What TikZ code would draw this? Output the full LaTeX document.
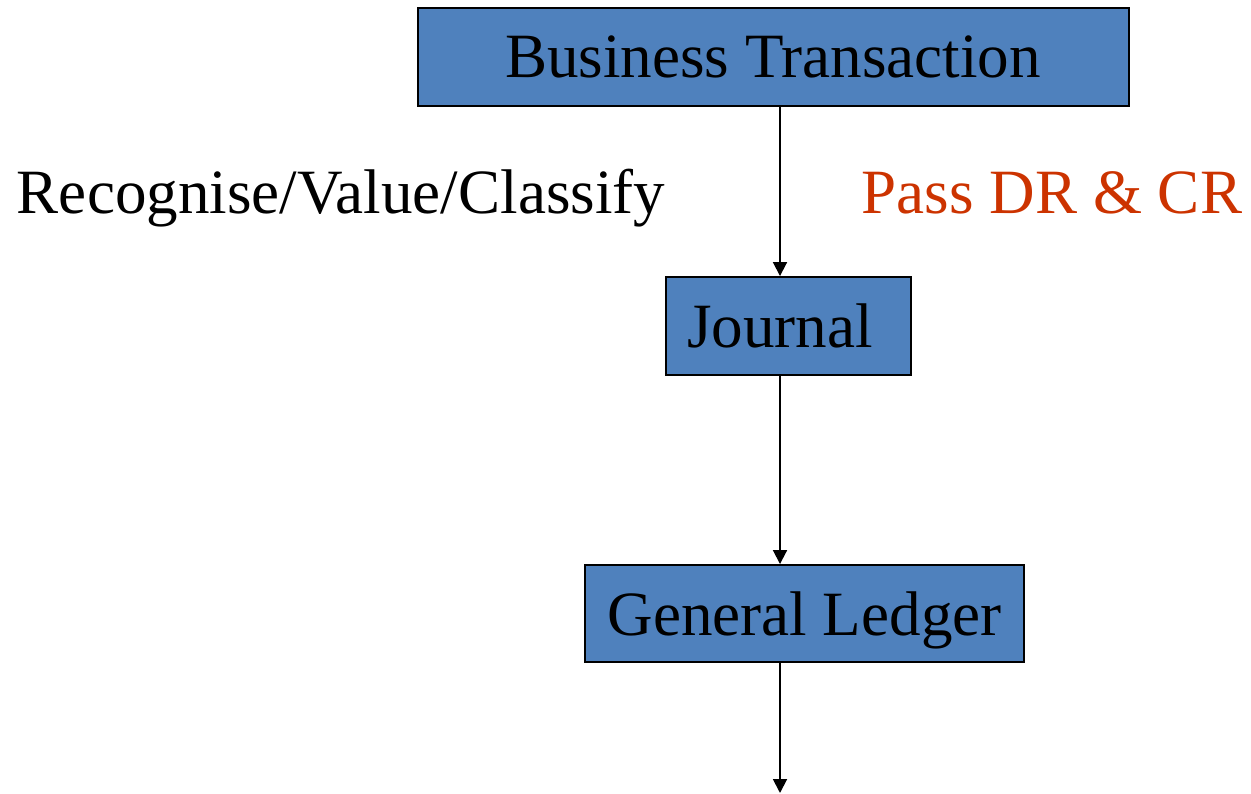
\documentclass[tikz,border=0pt]{standalone}
\usepackage{fontspec}
\setmainfont{Liberation Serif}
\usetikzlibrary{arrows.meta}
\definecolor{boxblue}{HTML}{4F81BD}
\definecolor{passred}{HTML}{CC3300}
\begin{document}
\begin{tikzpicture}[x=0.02cm,y=-0.02cm,
  box/.style={draw=black, line width=1.1pt, fill=boxblue, inner sep=0pt},
  lbl/.style={font=\fontsize{35.9}{40}\selectfont, anchor=base, inner sep=0pt},
  arr/.style={line width=1.1pt, -{Triangle[length=14pt*0.5669, width=14pt*0.5669]}}]
\useasboundingbox (0,0) rectangle (1251,794);
\node[box, minimum width=711*0.02cm, minimum height=98*0.02cm] (bt) at (773.5,57) {};
\node[lbl] (btt) at (773,78) {Business Transaction};
\node[box, minimum width=245*0.02cm, minimum height=98*0.02cm] (jr) at (788.5,326) {};
\node[lbl] (jt) at (780,347) {Journal};
\node[box, minimum width=439*0.02cm, minimum height=97*0.02cm] (gl) at (804.5,613.5) {};
\node[lbl] (glt) at (804.5,635) {General Ledger};
\node[lbl] (rv) at (341,214) {Recognise/Value/Classify};
\node[lbl, text=passred] (pd) at (1052,214) {Pass DR \& CR};
\coordinate (ax) at (780,0);
\coordinate (end) at (780,793);
\draw[arr] (bt.south -| ax) -- (jr.north -| ax);
\draw[arr] (jr.south -| ax) -- (gl.north -| ax);
\draw[arr] (gl.south -| ax) -- (end);
\end{tikzpicture}
\end{document}
